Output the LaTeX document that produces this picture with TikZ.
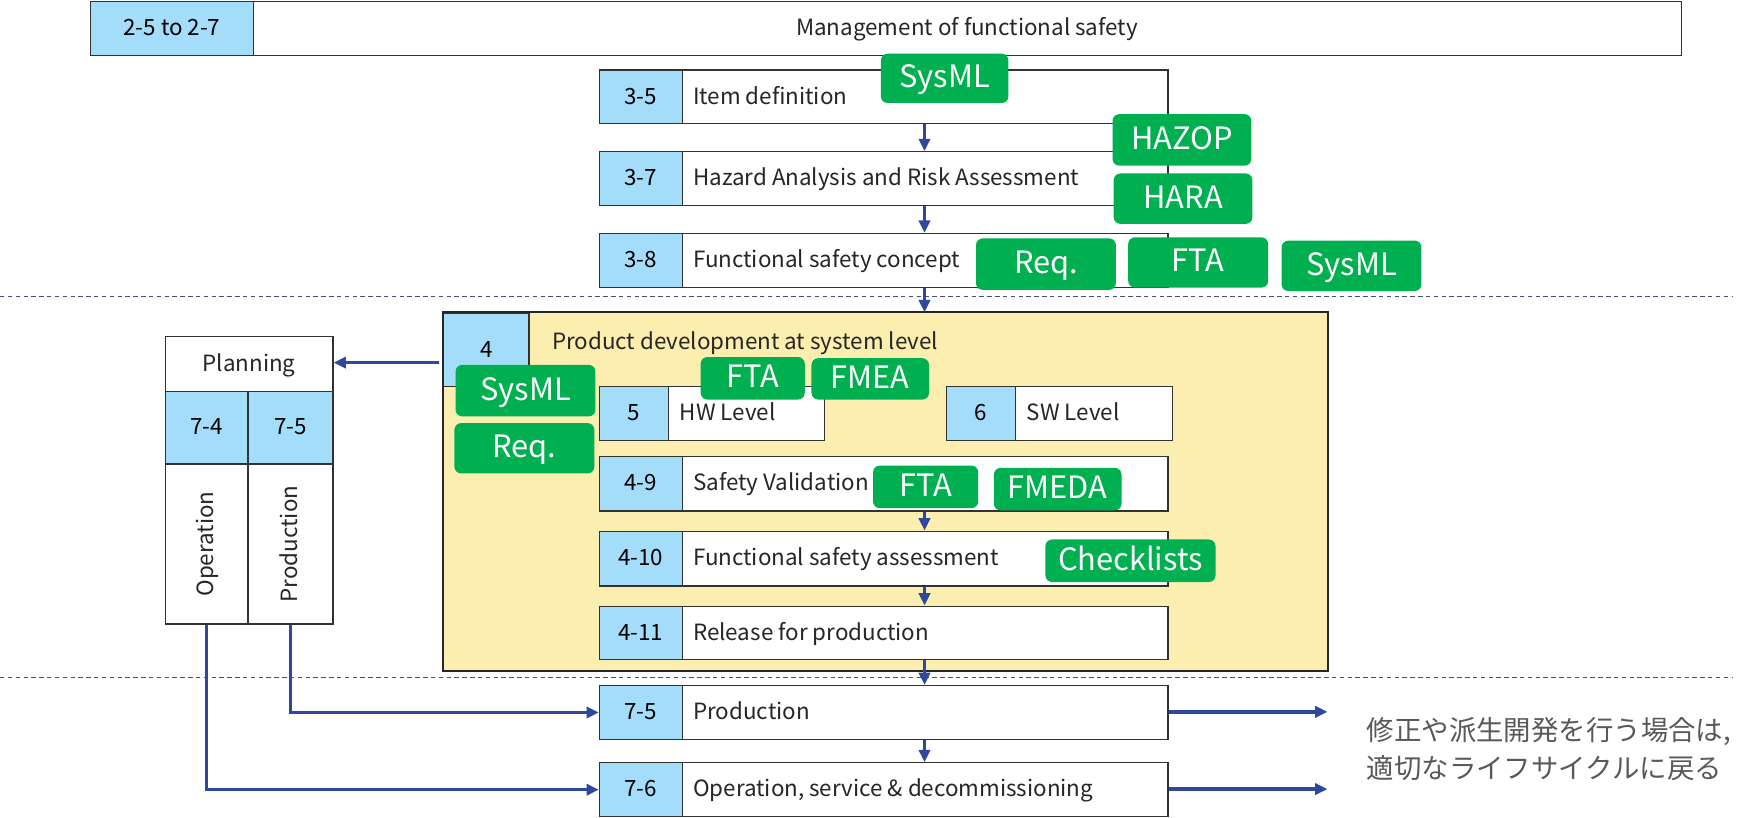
\documentclass[tikz,border=0pt]{standalone}
\usepackage{fontspec}
\setmainfont{Noto Sans CJK JP}
\usetikzlibrary{arrows.meta}
\definecolor{cellblue}{RGB}{163,221,250}
\definecolor{tagGreen}{RGB}{0,176,80}
\definecolor{devYellow}{RGB}{251,238,175}
\definecolor{flowBlue}{RGB}{47,72,155}
\definecolor{frameGray}{RGB}{50,50,50}
\definecolor{noteGray}{RGB}{89,89,89}
\definecolor{dashGray}{RGB}{70,80,120}
\newcommand\stepbox[8]{%
  \node[frame, minimum width=#4pt, minimum height=#5pt] (#1) at (#2,#3) {};
  \node[cell, minimum width=#6pt, minimum height=#5pt] (#1-n) at (#1.north west) {#7};
  \node[txt, anchor=west] (#1-t) at ([xshift=9pt]#1-n.east) {#8};
}
\begin{document}
\begin{tikzpicture}[x=1pt,y=-1pt,
  txt/.style={font=\fontsize{20}{24}\selectfont, text=black!85, inner sep=0pt, text height=15pt, text depth=2pt},
  frame/.style={draw=frameGray, line width=1.1pt, fill=white, inner sep=0pt, anchor=north west},
  cell/.style={draw=frameGray, line width=1.1pt, fill=cellblue, inner sep=0pt, anchor=north west, font=\fontsize{20}{24}\selectfont, text height=15pt, text depth=2pt},
  tag/.style={fill=tagGreen, text=white, rounded corners=6pt, inner sep=0pt, font=\fontsize{27.5}{30}\selectfont, text height=21pt, text depth=4pt},
  flow/.style={draw=flowBlue, line width=3pt, -{Triangle[length=11pt,width=10pt]}},
  sep/.style={draw=dashGray, line width=0.9pt, dash pattern=on 4pt off 3pt},
]
\useasboundingbox (0,0) rectangle (1568,730);

% separators
\draw[sep] (0,265) -- (1548,265);
\draw[sep] (0,605) -- (1548,605);

% management bar
\node[frame, minimum width=1422pt, minimum height=48pt] (mgmt) at (80,1) {};
\node[cell, minimum width=146pt, minimum height=48pt] (mgmt-n) at (mgmt.north west) {2-5 to 2-7};
\node[txt] (mgmt-t) at (864,25) {Management of functional safety};

% concept phase
\stepbox{b35}{535}{62}{508}{48}{74}{3-5}{Item definition}
\stepbox{b37}{535}{135}{508}{48}{74}{3-7}{Hazard Analysis and Risk Assessment}
\stepbox{b38}{535}{208}{508}{48}{74}{3-8}{Functional safety concept}

% product development
\node[fill=devYellow, inner sep=0pt, minimum width=790pt, minimum height=320pt, anchor=north west] (dev) at (396,279) {};
\node[cell, minimum width=76pt, minimum height=66pt] (dev-n) at (dev.north west) {4};
\draw[draw=black!85, line width=2pt] (dev.north west) rectangle (dev.south east);
\node[txt, anchor=west] (dev-t) at (493,306) {Product development at system level};

\stepbox{hw}{535}{345}{201}{48}{62}{5}{HW Level}
\stepbox{sw}{845}{345}{202}{48}{62}{6}{SW Level}
\stepbox{b49}{535}{407}{508}{49}{74}{4-9}{Safety Validation}
\stepbox{b410}{535}{474}{508}{49}{74}{4-10}{Functional safety assessment}
\stepbox{b411}{535}{541}{508}{48}{74}{4-11}{Release for production}

% production and operation
\stepbox{b75}{535}{612}{508}{48}{74}{7-5}{Production}
\stepbox{b76}{535}{681}{508}{48}{74}{7-6}{Operation, service \& decommissioning}

% planning column
\node[frame, minimum width=150pt, minimum height=49pt] (plan) at (147,300) {};
\node[txt] (plan-t) at (plan.center) {Planning};
\node[cell, minimum width=74pt, minimum height=65pt] (c74) at (147,349) {7-4};
\node[cell, minimum width=76pt, minimum height=65pt] (c75) at (221,349) {7-5};
\node[frame, minimum width=74pt, minimum height=143pt] (op) at (147,414) {};
\node[frame, minimum width=76pt, minimum height=143pt] (pr) at (221,414) {};
\node[txt, rotate=90] (op-t) at (op.center) {Operation};
\node[txt, rotate=90] (pr-t) at (pr.center) {Production};

% connectors
\coordinate (ax) at (826,0);
\coordinate (py) at (0,324);
\coordinate (r1) at (1186,636);
\coordinate (r2) at (1186,705);
\draw[flow] (b35.south -| ax) -- (b37.north -| ax);
\draw[flow] (b37.south -| ax) -- (b38.north -| ax);
\draw[flow] (b38.south -| ax) -- (dev.north -| ax);
\draw[flow] (b49.south -| ax) -- (b410.north -| ax);
\draw[flow] (b410.south -| ax) -- (b411.north -| ax);
\draw[flow] (b411.south -| ax) -- (b75.north -| ax);
\draw[flow] (b75.south -| ax) -- (b76.north -| ax);
\draw[flow] ([xshift=-4pt]dev.west |- py) -- (plan.east |- py);
\draw[flow] (pr.south) |- (b75.west);
\draw[flow] (op.south) |- (b76.west);
\draw[flow] (b75.east |- r1) -- (r1);
\draw[flow] (b76.east |- r2) -- (r2);

% method tags
\node[tag, minimum width=114pt, minimum height=44pt] (g1) at (844,70) {SysML};
\node[tag, minimum width=124pt, minimum height=46pt] (g2) at (1056,125) {HAZOP};
\node[tag, minimum width=124pt, minimum height=45pt] (g3) at (1057,177.5) {HARA};
\node[tag, minimum width=125pt, minimum height=46pt] (g4) at (934.5,236) {Req.};
\node[tag, minimum width=125pt, minimum height=45pt] (g5) at (1070.5,234.5) {FTA};
\node[tag, minimum width=125pt, minimum height=45pt] (g6) at (1207.5,237.5) {SysML};
\node[tag, minimum width=125pt, minimum height=46pt] (g7) at (469.5,349) {SysML};
\node[tag, minimum width=125pt, minimum height=45pt] (g8) at (468.5,400.5) {Req.};
\node[tag, minimum width=93pt, minimum height=38pt] (g9) at (672.5,338) {FTA};
\node[tag, minimum width=105pt, minimum height=37pt] (g10) at (777.5,338.5) {FMEA};
\node[tag, minimum width=94pt, minimum height=38pt] (g11) at (827,435) {FTA};
\node[tag, minimum width=114pt, minimum height=38pt] (g12) at (945,437) {FMEDA};
\node[tag, minimum width=152pt, minimum height=38pt] (g13) at (1010,501) {Checklists};

% note
\node[anchor=west, align=left, text=noteGray, inner sep=0pt, font=\fontsize{24.5}{34}\selectfont] (note) at (1221,669) {修正や派生開発を行う場合は,\\適切なライフサイクルに戻る};
\end{tikzpicture}
\end{document}
